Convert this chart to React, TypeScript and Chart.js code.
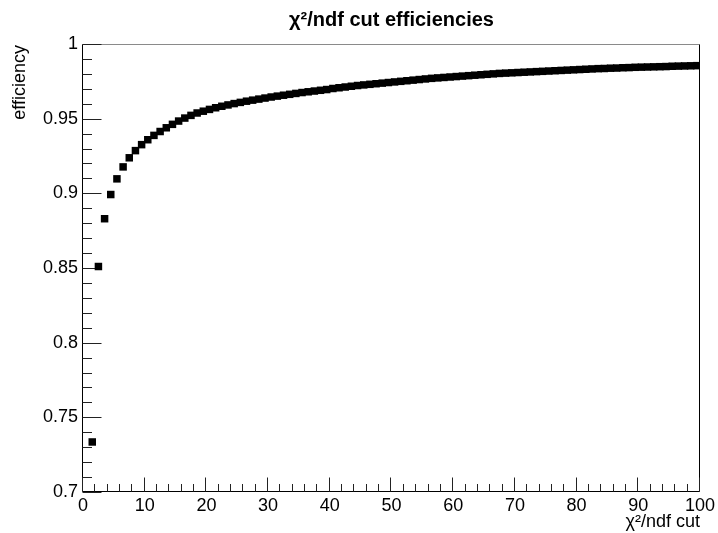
import { useEffect, useRef } from "react";
import { Chart, registerables } from "chart.js";

Chart.register(...registerables);

const FONT = '"Liberation Sans", Arial, Helvetica, sans-serif';

const chartTitle = "χ²/ndf cut efficiencies";
const xAxisTitle = "χ²/ndf cut";
const yAxisTitle = "efficiency";

// chi2/ndf cut values (bin centres)
const cutValues = [
  1.5, 2.5, 3.5, 4.5, 5.5, 6.5, 7.5, 8.5, 9.5, 10.5,
  11.5, 12.5, 13.5, 14.5, 15.5, 16.5, 17.5, 18.5, 19.5, 20.5,
  21.5, 22.5, 23.5, 24.5, 25.5, 26.5, 27.5, 28.5, 29.5, 30.5,
  31.5, 32.5, 33.5, 34.5, 35.5, 36.5, 37.5, 38.5, 39.5, 40.5,
  41.5, 42.5, 43.5, 44.5, 45.5, 46.5, 47.5, 48.5, 49.5, 50.5,
  51.5, 52.5, 53.5, 54.5, 55.5, 56.5, 57.5, 58.5, 59.5, 60.5,
  61.5, 62.5, 63.5, 64.5, 65.5, 66.5, 67.5, 68.5, 69.5, 70.5,
  71.5, 72.5, 73.5, 74.5, 75.5, 76.5, 77.5, 78.5, 79.5, 80.5,
  81.5, 82.5, 83.5, 84.5, 85.5, 86.5, 87.5, 88.5, 89.5, 90.5,
  91.5, 92.5, 93.5, 94.5, 95.5, 96.5, 97.5, 98.5, 99.5,
];

const efficiencies = [
  0.7335, 0.851, 0.883, 0.8992, 0.9097, 0.9177, 0.9238, 0.9286, 0.9326, 0.9359,
  0.9388, 0.9414, 0.9439, 0.9462, 0.9484, 0.9504, 0.9522, 0.9538, 0.955, 0.9562,
  0.9573, 0.9583, 0.9592, 0.9601, 0.9609, 0.9617, 0.9624, 0.9631, 0.9638, 0.9645,
  0.9651, 0.9657, 0.9663, 0.9669, 0.9675, 0.968, 0.9685, 0.969, 0.9695, 0.9702,
  0.9707, 0.9712, 0.9717, 0.9722, 0.9726, 0.973, 0.9734, 0.9738, 0.9742, 0.9746,
  0.975, 0.9754, 0.9758, 0.9762, 0.9766, 0.977, 0.9773, 0.9776, 0.9779, 0.9782,
  0.9785, 0.9788, 0.9791, 0.9794, 0.9797, 0.98, 0.9803, 0.9805, 0.9807, 0.9809,
  0.9811, 0.9813, 0.9815, 0.9817, 0.9819, 0.9821, 0.9823, 0.9825, 0.9827, 0.9829,
  0.9831, 0.9833, 0.9835, 0.9836, 0.9838, 0.9839, 0.9841, 0.9842, 0.9844, 0.9845,
  0.9846, 0.9847, 0.9848, 0.9849, 0.9851, 0.9852, 0.9853, 0.9854, 0.9855,
];

const xRange = [0, 100];
const yRange = [0.7, 1.0];

export default function App() {
  const ref = useRef<HTMLCanvasElement>(null);

  useEffect(() => {
    const canvas = ref.current;
    if (!canvas) return;

    const rootFrame = {
      id: "rootFrame",
      beforeDatasetsDraw(chart: any) {
        const { ctx, chartArea: a, scales } = chart;
        const xs = scales.x;
        const ys = scales.y;
        const L = Math.round(a.left) - 0.5;
        const R = Math.round(a.right) - 0.5;
        const T = Math.round(a.top) + 0.5;
        const B = Math.round(a.bottom) - 0.5;
        ctx.save();
        ctx.lineWidth = 1;
        // top frame (light)
        ctx.strokeStyle = "#8a8a8a";
        ctx.beginPath();
        ctx.moveTo(L, T);
        ctx.lineTo(R, T);
        ctx.stroke();
        // left, bottom, right
        ctx.strokeStyle = "#000";
        ctx.beginPath();
        ctx.moveTo(L, T);
        ctx.lineTo(L, B);
        ctx.lineTo(R, B);
        ctx.lineTo(R, T);
        ctx.stroke();
        // y ticks (inward)
        ctx.strokeStyle = "#222";
        ctx.beginPath();
        for (let i = 70; i <= 100; i++) {
          const y = Math.round(ys.getPixelForValue(i / 100)) + 0.5;
          const len = i % 5 === 0 ? 19 : 9.5;
          ctx.moveTo(L, y);
          ctx.lineTo(L + len, y);
        }
        // x ticks (inward)
        for (let i = 0; i <= 100; i += 2) {
          const x = Math.round(xs.getPixelForValue(i)) - 0.5;
          const len = i % 10 === 0 ? 14 : 7.5;
          ctx.moveTo(x, B);
          ctx.lineTo(x, B - len);
        }
        ctx.stroke();
        ctx.restore();
      },
      afterDraw(chart: any) {
        const { ctx, chartArea: a } = chart;
        ctx.save();
        ctx.fillStyle = "#000";
        // main title
        ctx.font = `bold 20px ${FONT}`;
        ctx.textAlign = "center";
        ctx.textBaseline = "middle";
        ctx.fillText(chartTitle, (a.left + a.right) / 2, 20);
        // x axis title
        ctx.font = `18px ${FONT}`;
        ctx.textAlign = "right";
        ctx.fillText(xAxisTitle, a.right, 522);
        // y axis title
        ctx.translate(20, a.top + 1);
        ctx.rotate(-Math.PI / 2);
        ctx.textAlign = "right";
        ctx.fillText(yAxisTitle, 0, 0);
        ctx.restore();
      },
    };

    const chart = new Chart(canvas, {
      type: "scatter",
      data: {
        datasets: [
          {
            data: cutValues.map((x, i) => ({ x, y: efficiencies[i] })),
            pointStyle: "rect",
            pointRadius: 5.3,
            pointBorderWidth: 0,
            borderWidth: 0,
            backgroundColor: "#000",
            borderColor: "#000",
            pointHoverRadius: 5.3,
          },
        ],
      },
      options: {
        animation: false,
        responsive: false,
        devicePixelRatio: 1,
        layout: { padding: { left: 0, right: 16, top: 44, bottom: 0 } },
        plugins: {
          legend: { display: false },
          tooltip: { enabled: false },
          title: { display: false },
        },
        scales: {
          x: {
            type: "linear",
            min: xRange[0],
            max: xRange[1],
            grid: { display: false, drawTicks: false },
            border: { display: false },
            ticks: {
              stepSize: 10,
              padding: 3,
              color: "#000",
              maxRotation: 0,
              font: { family: FONT, size: 18 },
            },
            afterFit: (s: any) => {
              s.height = 41;
            },
          },
          y: {
            type: "linear",
            min: yRange[0],
            max: yRange[1],
            grid: { display: false, drawTicks: false },
            border: { display: false },
            ticks: {
              stepSize: 0.05,
              padding: 5,
              color: "#000",
              font: { family: FONT, size: 18 },
              callback: (v: any) => String(parseFloat(Number(v).toFixed(2))),
            },
            afterFit: (s: any) => {
              s.width = 83;
            },
          },
        },
      },
      plugins: [rootFrame],
    });

    return () => chart.destroy();
  }, []);

  return (
    <div style={{ position: "fixed", left: 0, top: 0, width: 718, height: 533, background: "#fff" }}>
      <canvas ref={ref} width={718} height={533} style={{ display: "block", width: 718, height: 533 }} />
    </div>
  );
}
